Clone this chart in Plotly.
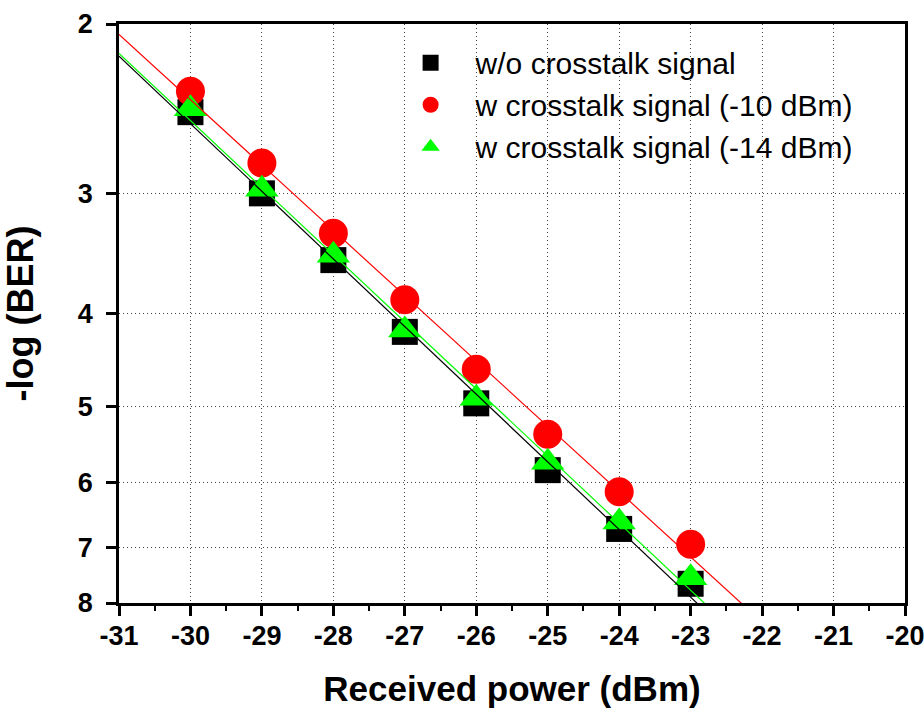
import numpy as np
import plotly.graph_objects as go

# Received power (dBm)
power = [-30, -29, -28, -27, -26, -25, -24, -23]
# -log(BER) values
wo_crosstalk = [2.47, 3.00, 3.52, 4.18, 4.96, 5.82, 6.70, 7.64]
w_crosstalk_10 = [2.35, 2.79, 3.30, 3.87, 4.57, 5.34, 6.13, 6.95]
w_crosstalk_14 = [2.45, 2.97, 3.48, 4.16, 4.90, 5.71, 6.59, 7.53]

series_names = ["w/o crosstalk signal", "w crosstalk signal (-10 dBm)", "w crosstalk signal (-14 dBm)"]
x_ticks = [-31, -30, -29, -28, -27, -26, -25, -24, -23, -22, -21, -20]
y_ticks = [2, 3, 4, 5, 6, 7, 8]

series = [
    (wo_crosstalk, "#000000", "square", 26),
    (w_crosstalk_10, "#ff0000", "circle", 29),
    (w_crosstalk_14, "#00ff00", "triangle-up", 29),
]

fig = go.Figure()
x_fit = np.array([x_ticks[0], x_ticks[-1]], dtype=float)
for (vals, color, sym, size), name in zip(series, series_names):
    fig.add_trace(go.Scatter(
        x=power, y=vals, mode="markers", name="\u00a0\u00a0\u00a0" + name,
        marker=dict(symbol=sym, size=size, color=color, line=dict(width=0)),
    ))
for (vals, color, sym, size), name in zip(series, series_names):
    b, a = np.polyfit(np.array(power, float), np.log10(np.array(vals, float)), 1)
    fig.add_trace(go.Scatter(
        x=x_fit, y=10 ** (a + b * x_fit), mode="lines", showlegend=False,
        line=dict(color=color, width=1.2), hoverinfo="skip",
    ))

fig.update_layout(
    width=924, height=708,
    margin=dict(l=119, r=19, t=24, b=105),
    paper_bgcolor="white", plot_bgcolor="white",
    font=dict(family="Liberation Sans, Arial, sans-serif", color="black"),
    showlegend=True,
    legend=dict(
        x=0.371, y=0.978, xanchor="left", yanchor="top",
        bgcolor="rgba(0,0,0,0)", font=dict(size=30, color="black"),
        itemsizing="trace",
    ),
)
grid_dash = "1px,3px"
fig.update_xaxes(
    range=[-31, -20], tickvals=x_ticks, ticktext=[str(t) for t in x_ticks],
    showline=True, linecolor="black", linewidth=2.5, mirror=True,
    ticks="outside", ticklen=10, tickwidth=2.5, tickcolor="black",
    tickfont=dict(size=27, family="Liberation Sans, Arial, sans-serif", weight="bold"),
    minor=dict(ticks="outside", ticklen=5, tickwidth=2, tickcolor="black", dtick=0.5, showgrid=False),
    showgrid=True, gridcolor="#444", griddash=grid_dash, gridwidth=1,
    zeroline=False, ticklabelstandoff=-3, automargin=False, ticklabeloverflow="allow",
    title=dict(text="Received power (dBm)", font=dict(size=35, weight="bold"), standoff=31),
)
fig.update_yaxes(
    type="log", range=[np.log10(8), np.log10(2)],
    tickvals=y_ticks, ticktext=[str(t) for t in y_ticks],
    showline=True, linecolor="black", linewidth=2.5, mirror=True,
    ticks="outside", ticklen=10, tickwidth=2.5, tickcolor="black",
    tickfont=dict(size=27, family="Liberation Sans, Arial, sans-serif", weight="bold"),
    showgrid=True, gridcolor="#444", griddash=grid_dash, gridwidth=1,
    zeroline=False, ticklabelstandoff=8, automargin=False, ticklabeloverflow="allow",
    title=dict(text="-log (BER)", font=dict(size=36, weight="bold"), standoff=35),
)

fig.write_html(
    "out.html",
    config={"displayModeBar": False},
    post_script="document.body.style.margin='0';document.body.style.overflow='hidden';",
)
